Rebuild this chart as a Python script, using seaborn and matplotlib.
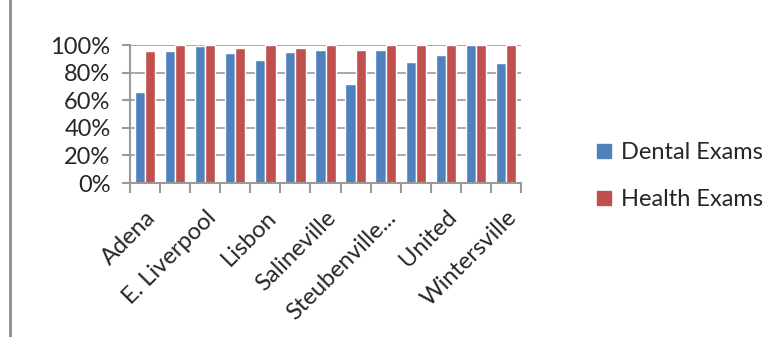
import matplotlib
matplotlib.use('Agg')
import matplotlib.pyplot as plt
import seaborn as sns
import pandas as pd
from matplotlib.lines import Line2D
from matplotlib.ticker import PercentFormatter, FixedLocator

# categories (only every other one is labelled in the chart)
sitios = ['Adena', 'Brilliant', 'E. Liverpool', 'Irondale', 'Lisbon', 'Mingo Junction',
          'Salineville', 'Smithfield', 'Steubenville...', 'Toronto', 'United',
          'Wellsville', 'Wintersville']
dental = [66, 96, 99, 94, 89, 95, 96.5, 72, 96.5, 88, 93, 100, 87]
salud = [96, 100, 100, 97.5, 100, 98, 100, 96.5, 100, 100, 100, 100, 100]
series = ['Dental Exams', 'Health Exams']
colores = ['#4F81BD', '#C0504D']
yticks = [0, 20, 40, 60, 80, 100]

df = pd.DataFrame({'Sitio': sitios, series[0]: dental, series[1]: salud})
df_melt = df.melt(id_vars='Sitio', value_vars=series, var_name='Serie', value_name='Valor')

sns.set_style('white')
plt.rcParams['font.family'] = ['Lato', 'DejaVu Sans']

fig = plt.figure(figsize=(7.8, 3.37), dpi=100)
ax = fig.add_axes([130 / 780, 1 - 183 / 337, 391 / 780, 138 / 337])

sns.barplot(data=df_melt, x='Sitio', y='Valor', hue='Serie', order=sitios,
            palette=colores, width=0.68, saturation=1, ax=ax, legend=False)

# gris de las lineas de la cuadricula
gris = '#9a9a9a'
ax.set_ylim(0, 100)
ax.set_xlim(-0.5, len(sitios) - 0.5)
ax.set_yticks(yticks)
ax.yaxis.set_major_formatter(PercentFormatter(decimals=0))
ax.grid(axis='y', color=gris, linewidth=1.2)
ax.set_axisbelow(True)

# etiquetas solo cada dos categorias
ax.set_xticks(range(0, len(sitios), 2))
ax.set_xticklabels([sitios[i] for i in range(0, len(sitios), 2)], rotation=45,
                   ha='right', rotation_mode='anchor', fontsize=17)
ax.tick_params(axis='x', length=0, pad=17)
ax.xaxis.set_minor_locator(FixedLocator([i - 0.5 for i in range(len(sitios) + 1)]))
ax.tick_params(axis='x', which='minor', length=7, width=1.5, color=gris, direction='out', bottom=True)
ax.tick_params(axis='y', length=6, width=1.5, color=gris, direction='out', left=True, labelsize=17, pad=8)

ax.set_xlabel('')
ax.set_ylabel('')
for lado in ['top', 'right']:
    ax.spines[lado].set_visible(False)
for lado in ['left', 'bottom']:
    ax.spines[lado].set_color(gris)
    ax.spines[lado].set_linewidth(1.5)

handles = [Line2D([0], [0], marker='s', linestyle='', markersize=10,
                  markerfacecolor=c, markeredgecolor=c) for c in colores]
fig.legend(handles, series, loc='center left', bbox_to_anchor=(595 / 780, 1 - 176 / 337),
           frameon=False, fontsize=17, handletextpad=0.3, labelspacing=1.1,
           handlelength=0.8, borderpad=0, borderaxespad=0)

# borde del area del grafico
fig.add_artist(Line2D([9.5 / 780, 9.5 / 780], [0, 1], color='#8c8c8c', linewidth=2,
                      transform=fig.transFigure))

fig.savefig('out.png', dpi=100)
plt.close()
